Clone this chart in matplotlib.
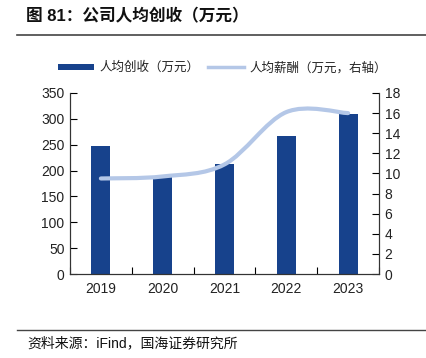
import matplotlib
matplotlib.use("Agg")
import matplotlib.pyplot as plt
from matplotlib.path import Path
from matplotlib.patches import PathPatch
from matplotlib.lines import Line2D
import numpy as np

plt.rcParams['font.family'] = ['Liberation Sans', 'Noto Sans CJK SC', 'DejaVu Sans']

years = ["2019", "2020", "2021", "2022", "2023"]
revenue = [248, 188, 212, 266, 309]          # 人均创收（万元）
salary = [9.5, 9.7, 10.9, 16.1, 16.0]         # 人均薪酬（万元，右轴）
left_ticks = [0, 50, 100, 150, 200, 250, 300, 350]
right_ticks = [0, 2, 4, 6, 8, 10, 12, 14, 16, 18]

bar_color = "#17428c"
line_color = "#b4c7e7"
text_color = "#222222"

fig = plt.figure(figsize=(4.27, 3.58), dpi=100)
ax = fig.add_axes([70/427, 1-274/358, (379-70)/427, (274-93)/358])
ax2 = ax.twinx()

x = np.arange(len(years))
bars = ax.bar(x, revenue, width=0.31, color=bar_color, zorder=2, label="人均创收（万元）")
ax.set_xlim(-0.5, len(years) - 0.5)
ax.set_ylim(0, 350)
ax.set_yticks(left_ticks)
ax2.set_ylim(0, 18)
ax2.set_yticks(right_ticks)

ax.set_xticks(x)
ax.set_xticklabels(years)
ax.set_xticks(np.arange(len(years) + 1) - 0.5, minor=True)
ax.tick_params(axis='x', which='major', length=0, pad=6)
ax.tick_params(axis='x', which='minor', direction='in', length=5, width=0.8)
ax.tick_params(axis='y', direction='in', length=5, width=0.8, pad=4)
ax2.tick_params(axis='y', direction='in', length=5, width=0.8, pad=4)
for a in (ax, ax2):
    for lab in a.get_xticklabels() + a.get_yticklabels():
        lab.set_fontsize(10)
        lab.set_color(text_color)
    a.spines['top'].set_visible(False)
    for s in ('left', 'right', 'bottom'):
        a.spines[s].set_linewidth(0.8)
        a.spines[s].set_color('#333333')

# smoothed line (Catmull-Rom as cubic Bezier segments) through the data points
pts = np.column_stack([x.astype(float), np.array(salary, dtype=float)])
verts = [tuple(pts[0])]
codes = [Path.MOVETO]
n = len(pts)
for i in range(n - 1):
    p0 = pts[i - 1] if i > 0 else pts[i]
    p1 = pts[i]
    p2 = pts[i + 1]
    p3 = pts[i + 2] if i + 2 < n else pts[i + 1]
    c1 = p1 + (p2 - p0) / 6.0
    c2 = p2 - (p3 - p1) / 6.0
    verts += [tuple(c1), tuple(c2), tuple(p2)]
    codes += [Path.CURVE4] * 3
patch = PathPatch(Path(verts, codes), facecolor='none', edgecolor=line_color,
                  linewidth=3, capstyle='round', zorder=3)
ax2.add_patch(patch)

line_handle = Line2D([], [], color=line_color, linewidth=2.5)
leg = fig.legend([bars, line_handle], ["人均创收（万元）", "人均薪酬（万元，右轴）"],
                 loc='center left', bbox_to_anchor=(58/427, 1-68/358), ncol=2,
                 frameon=False, fontsize=9, handlelength=2.9, handleheight=0.4,
                 columnspacing=0.7, handletextpad=0.4, borderaxespad=0, borderpad=0)
for t in leg.get_texts():
    t.set_color(text_color)

fig.text(26/427, 1-16/358, "图 81：公司人均创收（万元）", fontsize=12, fontweight='bold',
         color='#111111', va='center', ha='left')
fig.add_artist(Line2D([17/427, 1.0], [1-35/358, 1-35/358], color='#444444', linewidth=1.2))
fig.add_artist(Line2D([17/427, 1.0], [1-330/358, 1-330/358], color='#444444', linewidth=1.0))
fig.text(27/427, 1-343/358, "资料来源：iFind，国海证券研究所", fontsize=10,
         color='#111111', va='center', ha='left')

fig.savefig("out.png", dpi=100)
